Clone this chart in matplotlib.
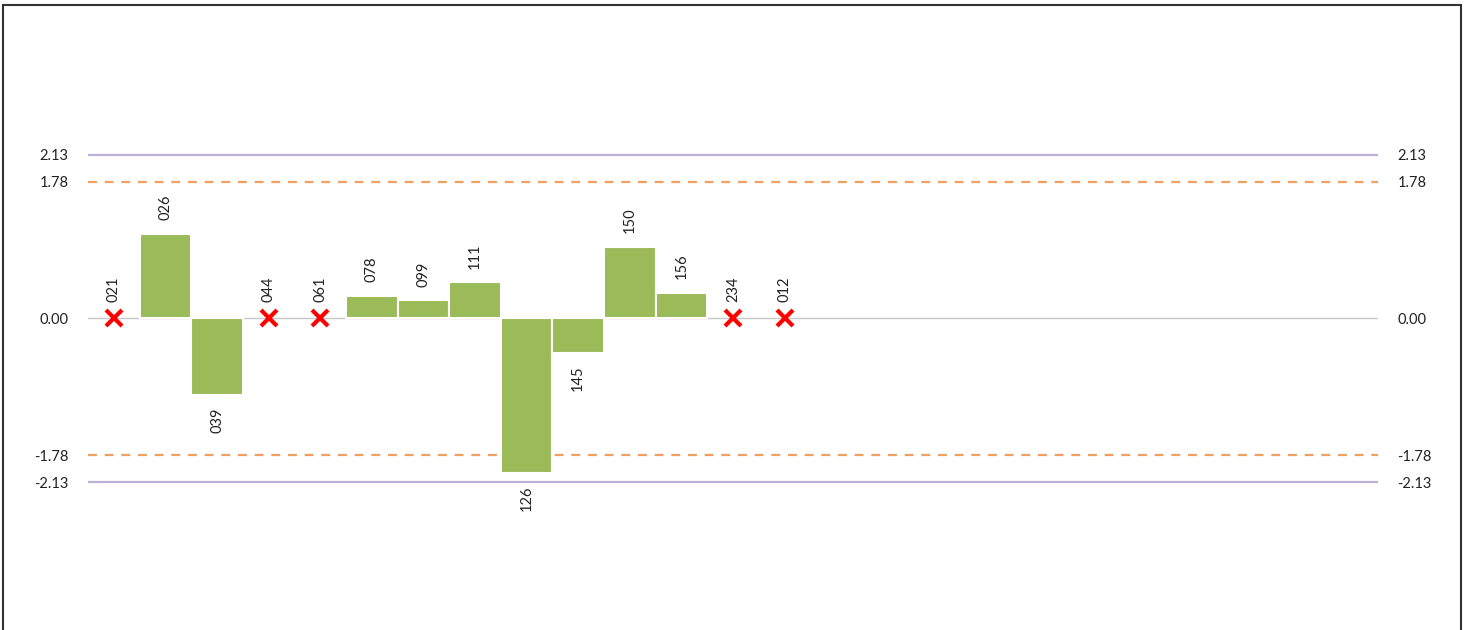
import numpy as np
import matplotlib.pyplot as plt
from matplotlib.patches import Rectangle

# data
labels = ['021', '026', '039', '044', '061', '078', '099', '111', '126', '145', '150', '156', '234', '012']
values = [None, 1.10, -1.00, None, None, 0.29, 0.235, 0.47, -2.01, -0.445, 0.93, 0.33, None, None]
n_slots = 25
limits = [2.13, 1.78]

bar_color = '#9bbb59'
plt.rcParams['font.family'] = ['Lato', 'DejaVu Sans']

fig = plt.figure(figsize=(14.67, 6.3), dpi=100)
ax = fig.add_axes([88/1467, 81.2/630, 1290/1467, 460.6/630])
ax.set_xlim(-0.5, n_slots - 0.5)
ax.set_ylim(-3, 3)

# reference lines
ax.axhline(0, color='#c8c8c8', lw=1, zorder=1)
ax.axhline(limits[0], color='#bcb0d8', lw=1.6, zorder=1)
ax.axhline(-limits[0], color='#bcb0d8', lw=1.6, zorder=1)
ax.axhline(limits[1], color='#f0a060', lw=1.6, ls=(0, (4, 3.5)), zorder=1)
ax.axhline(-limits[1], color='#f0a060', lw=1.6, ls=(0, (4, 3.5)), zorder=1)

for i, (lab, v) in enumerate(zip(labels, values)):
    if v is None:
        ax.plot(i, 0, marker='x', color='red', ms=11, mew=3, zorder=3)
        ax.annotate(lab, (i, 0), xytext=(0, 12), textcoords='offset points',
                    rotation=90, ha='center', va='bottom', fontsize=10.5, color='#222')
    else:
        ax.bar(i, v, width=1.0, color=bar_color, edgecolor='white', lw=1.5, zorder=2)
        if v >= 0:
            ax.annotate(lab, (i, v), xytext=(0, 10), textcoords='offset points',
                        rotation=90, ha='center', va='bottom', fontsize=10.5, color='#222')
        else:
            ax.annotate(lab, (i, v), xytext=(0, -9), textcoords='offset points',
                        rotation=90, ha='center', va='top', fontsize=10.5, color='#222')

ticks = [-limits[0], -limits[1], 0, limits[1], limits[0]]
ax.set_yticks(ticks)
ax.set_yticklabels(['%.2f' % t for t in ticks])
ax.tick_params(axis='y', length=0, pad=14, labelsize=10.5, labelcolor='#222',
               labelright=True, right=False)
ax.set_xticks([])
for s in ax.spines.values():
    s.set_visible(False)

# outer frame
fig.patches.append(Rectangle((3/1467, -0.1), 1458/1467, 1.1 - 5/630, transform=fig.transFigure,
                             fill=False, edgecolor='#333333', lw=1.5))

fig.savefig('out.png', dpi=100)
